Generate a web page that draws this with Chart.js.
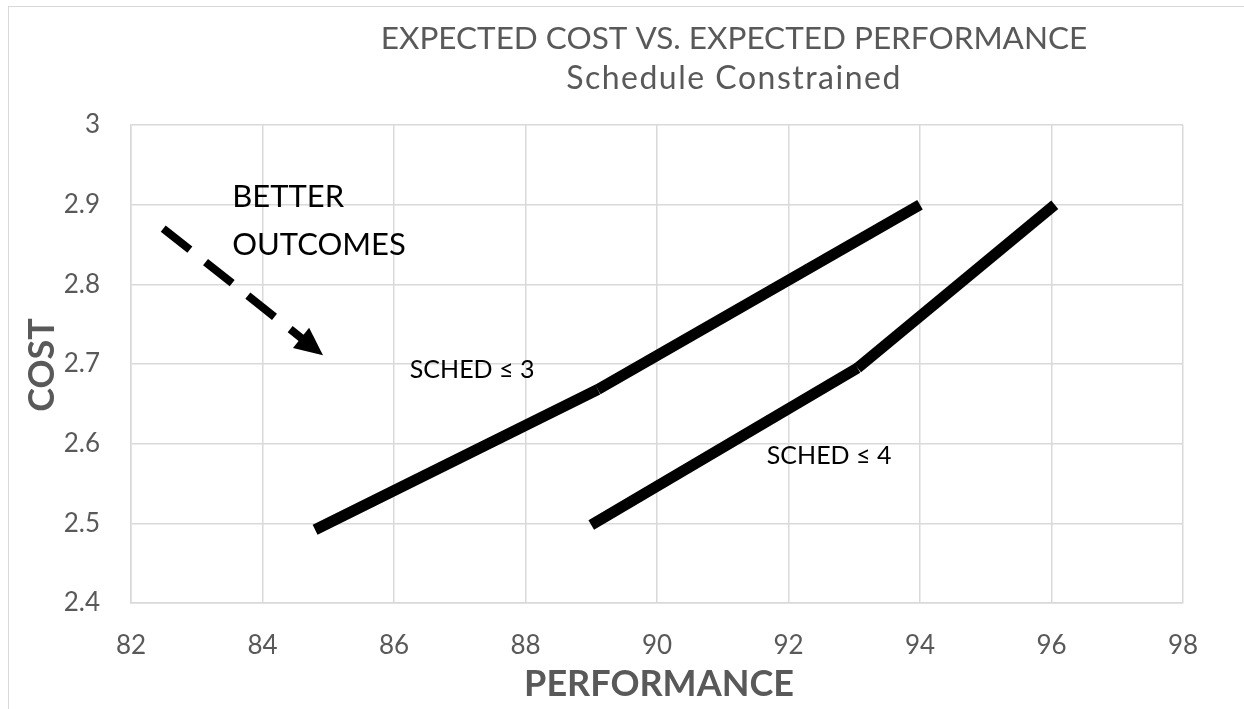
<!DOCTYPE html>
<html><head><meta charset="utf-8">
<script src="https://cdn.jsdelivr.net/npm/chart.js@4.4.0/dist/chart.umd.min.js"></script>
<style>
html,body{margin:0;padding:0;background:#fff;overflow:hidden;}
#wrap{position:absolute;left:0;top:0;width:1244px;height:709px;}
#frame{position:absolute;left:8px;top:6px;width:1300px;height:800px;border:1.5px solid #d9d9d9;box-sizing:border-box;}
</style></head>
<body>
<div id="wrap"><div id="frame"></div><canvas id="c" width="1244" height="709"></canvas></div>
<script>
const titleLines = ["EXPECTED COST VS. EXPECTED PERFORMANCE", "Schedule Constrained"];
const xTitle = "PERFORMANCE";
const yTitle = "COST";
// SCHED <= 3 curve (two segments)
const sched3Perf = [84.8, 89.1, 94.0];
const sched3Cost = [2.492, 2.668, 2.90];
// SCHED <= 4 curve (two segments)
const sched4Perf = [89.0, 93.05, 96.05];
const sched4Cost = [2.498, 2.695, 2.90];
const xTicks = [82, 84, 86, 88, 90, 92, 94, 96, 98];
const yTicks = [2.4, 2.5, 2.6, 2.7, 2.8, 2.9, 3.0];
const labels = [
  {text: "BETTER", x: 83.54, y: 2.909, size: 31},
  {text: "OUTCOMES", x: 83.54, y: 2.849, size: 31},
  {text: "SCHED \u2264 3", x: 86.24, y: 2.692, size: 25},
  {text: "SCHED \u2264 4", x: 91.67, y: 2.584, size: 25}
];
const arrowFrom = {x: 82.49, y: 2.870};
const arrowTo = {x: 84.92, y: 2.711};

const FONT = "Lato";
const GREY = "#595959";

function seg(px, py, i) {
  return [{x: px[i], y: py[i]}, {x: px[i+1], y: py[i+1]}];
}
const lineStyle = {showLine: true, borderColor: "#000", borderWidth: 11, pointRadius: 0, borderCapStyle: "butt", fill: false, tension: 0};
const datasets = [
  Object.assign({label: "SCHED ≤ 3 a", data: seg(sched3Perf, sched3Cost, 0)}, lineStyle),
  Object.assign({label: "SCHED ≤ 3 b", data: seg(sched3Perf, sched3Cost, 1)}, lineStyle),
  Object.assign({label: "SCHED ≤ 4 a", data: seg(sched4Perf, sched4Cost, 0)}, lineStyle),
  Object.assign({label: "SCHED ≤ 4 b", data: seg(sched4Perf, sched4Cost, 1)}, lineStyle)
];

const annot = {
  id: "annot",
  afterDraw(chart) {
    const ctx = chart.ctx, xs = chart.scales.x, ys = chart.scales.y;
    ctx.save();
    // titles
    ctx.fillStyle = GREY;
    ctx.textAlign = "center"; ctx.textBaseline = "middle";
    ctx.font = "31.5px " + FONT;
    ctx.fillText(titleLines[0], 734, 39);
    ctx.font = "32px " + FONT;
    ctx.letterSpacing = "1.5px";
    ctx.fillText(titleLines[1], 734, 79);
    ctx.letterSpacing = "0px";
    ctx.font = "bold 36px " + FONT;
    ctx.fillText(xTitle, 659, 684);
    ctx.save();
    ctx.translate(42, 365); ctx.rotate(-Math.PI/2);
    ctx.fillText(yTitle, 0, 0);
    ctx.restore();
    // labels
    ctx.fillStyle = "#000"; ctx.textAlign = "left";
    labels.forEach(l => {
      ctx.font = l.size + "px " + FONT;
      ctx.fillText(l.text, xs.getPixelForValue(l.x), ys.getPixelForValue(l.y));
    });
    // arrow
    const x0 = xs.getPixelForValue(arrowFrom.x), y0 = ys.getPixelForValue(arrowFrom.y);
    const x1 = xs.getPixelForValue(arrowTo.x), y1 = ys.getPixelForValue(arrowTo.y);
    const ang = Math.atan2(y1 - y0, x1 - x0);
    const headLen = 28, headW = 13;
    const bx = x1 - headLen * Math.cos(ang), by = y1 - headLen * Math.sin(ang);
    ctx.strokeStyle = "#000"; ctx.lineWidth = 8; ctx.lineCap = "butt";
    ctx.setLineDash([34, 20]);
    ctx.beginPath(); ctx.moveTo(x0, y0); ctx.lineTo(bx + 2*Math.cos(ang), by + 2*Math.sin(ang)); ctx.stroke();
    ctx.setLineDash([]);
    ctx.fillStyle = "#000";
    ctx.beginPath();
    ctx.moveTo(x1, y1);
    ctx.lineTo(bx + headW * Math.sin(ang), by - headW * Math.cos(ang));
    ctx.lineTo(bx - headW * Math.sin(ang), by + headW * Math.cos(ang));
    ctx.closePath(); ctx.fill();
    ctx.restore();
  }
};

new Chart(document.getElementById("c"), {
  type: "scatter",
  data: {datasets},
  options: {
    responsive: false, animation: false,
    layout: {padding: {left: 0, top: 125, right: 61, bottom: 0}},
    plugins: {legend: {display: false}, title: {display: false}, tooltip: {enabled: false}},
    scales: {
      x: {
        type: "linear", min: 82, max: 98,
        afterBuildTicks: s => { s.ticks = xTicks.map(v => ({value: v})); },
        afterFit: s => { s.height = 106; },
        grid: {color: "#d9d9d9", lineWidth: 1.5, drawTicks: false},
        border: {color: "#d9d9d9", width: 1.5},
        ticks: {color: GREY, font: {family: FONT, size: 26}, padding: 27, maxRotation: 0}
      },
      y: {
        type: "linear", min: 2.4, max: 3.0,
        afterBuildTicks: s => { s.ticks = yTicks.map(v => ({value: v})); },
        afterFit: s => { s.width = 131; },
        grid: {color: "#d9d9d9", lineWidth: 1.5, drawTicks: false},
        border: {color: "#d9d9d9", width: 1.5},
        ticks: {color: GREY, font: {family: FONT, size: 26}, padding: 31,
          callback: v => (Math.round(v * 10) / 10).toString()}
      }
    }
  },
  plugins: [annot]
});
</script>
</body></html>
